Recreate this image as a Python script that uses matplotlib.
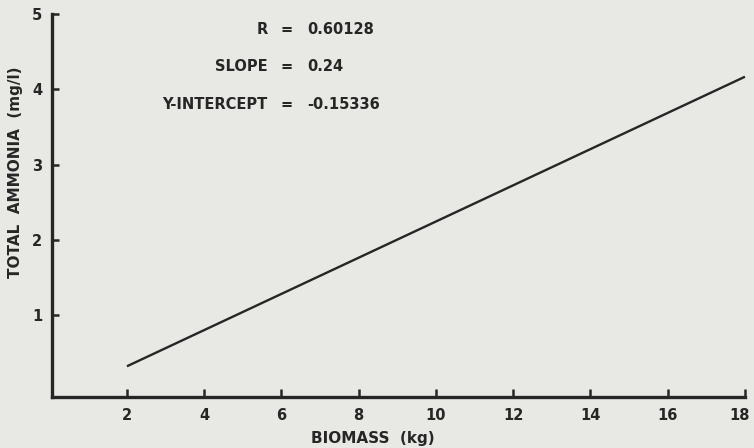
import matplotlib
matplotlib.use("Agg")
import matplotlib.pyplot as plt
import matplotlib.transforms as mtransforms
import numpy as np

# regression results printed on the chart
R_VALUE = "0.60128"
SLOPE = 0.24
INTERCEPT = -0.15336

# fitted line drawn over the biomass range
biomass_range = [2, 18]
x_ticks = [2, 4, 6, 8, 10, 12, 14, 16, 18]
y_ticks = [1, 2, 3, 4, 5]

INK = "#262626"
PAPER = "#e8e8e4"

plt.rcParams["font.family"] = ["DejaVu Sans"]
plt.rcParams["font.weight"] = "bold"

fig = plt.figure(figsize=(7.54, 4.48), dpi=100, facecolor=PAPER)
ax = fig.add_axes([0.069, 0.114, 0.919, 0.855], facecolor=PAPER)

x = np.array(biomass_range, dtype=float)
y = SLOPE * x + INTERCEPT
ax.plot(x, y, color=INK, lw=1.7, solid_capstyle="butt", clip_on=False)

ax.set_xlim(0.06, 18)
ax.set_ylim(-0.08, 5)
ax.set_xticks(x_ticks)
ax.set_yticks(y_ticks)
ax.tick_params(axis="x", direction="in", length=6, width=1.8, colors=INK,
               labelsize=10.5, pad=8)
ax.tick_params(axis="y", direction="in", length=5, width=1.8, colors=INK,
               labelsize=10.5, pad=7)
for lbl in ax.get_xticklabels() + ax.get_yticklabels():
    lbl.set_fontweight("bold")
# last x label sits a little left of its tick, as on the original
last = ax.get_xticklabels()[-1]
last.set_transform(last.get_transform() +
                   mtransforms.ScaledTranslation(-5 / 100, 0, fig.dpi_scale_trans))

for side in ["top", "right"]:
    ax.spines[side].set_visible(False)
for side in ["left", "bottom"]:
    ax.spines[side].set_linewidth(2.4)
    ax.spines[side].set_color(INK)

fig.text(0.495, 0.022, "BIOMASS  (kg)", ha="center", va="center",
         fontsize=11, fontweight="bold", color=INK)
fig.text(0.02, 0.615, "TOTAL  AMMONIA  (mg/l)", ha="center", va="center",
         rotation=90, fontsize=11, fontweight="bold", color=INK)

# statistics block, '=' signs aligned
eq_x = 0.38
rows = [("R", R_VALUE), ("SLOPE", f"{SLOPE:.2f}"),
        ("Y-INTERCEPT", f"{INTERCEPT:.5f}")]
for i, (name, val) in enumerate(rows):
    yy = 0.935 - i * 0.084
    fig.text(eq_x - 0.025, yy, name, ha="right", va="center",
             fontsize=10.5, fontweight="bold", color=INK)
    fig.text(eq_x, yy, "=", ha="center", va="center",
             fontsize=10.5, fontweight="bold", color=INK)
    fig.text(eq_x + 0.027, yy, val, ha="left", va="center",
             fontsize=10.5, fontweight="bold", color=INK)

fig.savefig("out.png", dpi=100, facecolor=PAPER)
